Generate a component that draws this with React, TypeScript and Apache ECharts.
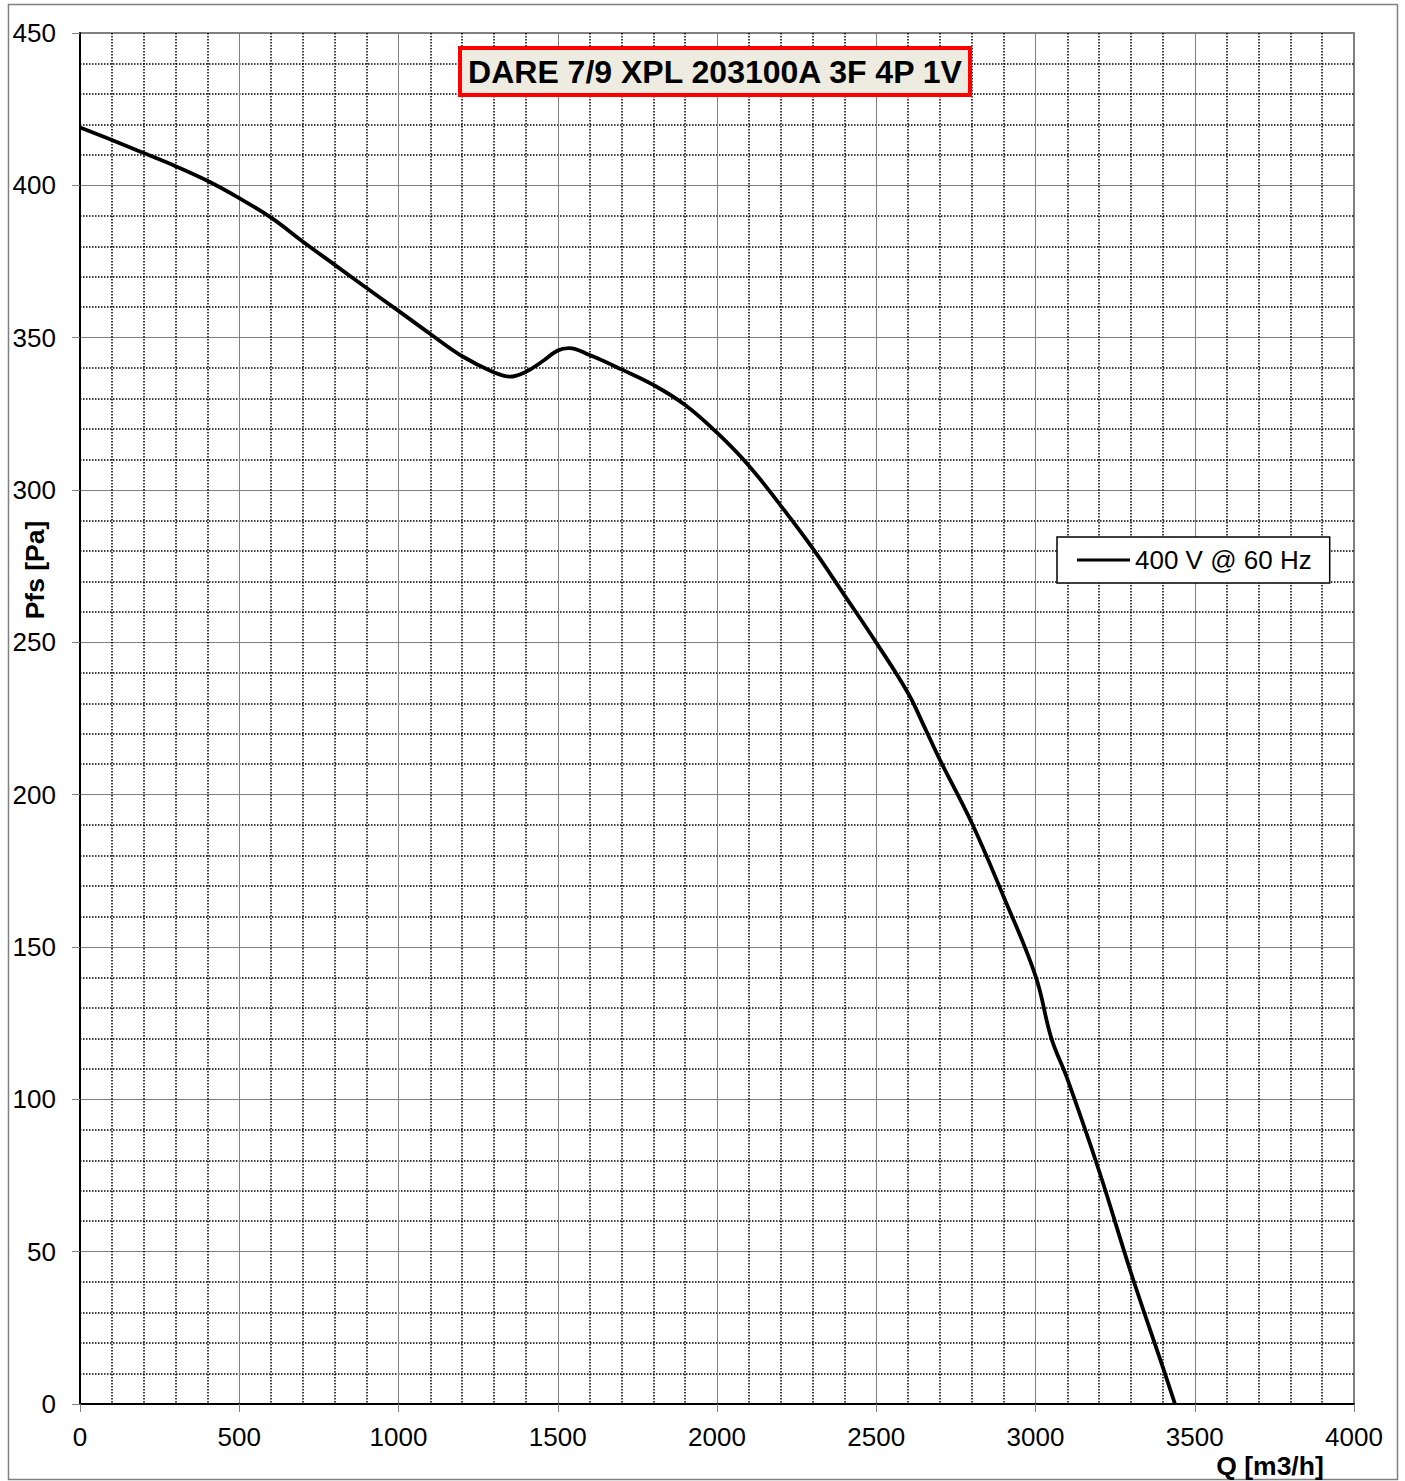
import React, { useEffect, useRef } from "react";
import * as echarts from "echarts";

const flowQ = [0, 100, 200, 300, 400, 500, 600, 700, 800, 900, 1000, 1100, 1200, 1300, 1350, 1400, 1450, 1500, 1535, 1600, 1700, 1800, 1900, 2000, 2100, 2200, 2300, 2400, 2500, 2600, 2650, 2700, 2800, 2900, 3000, 3050, 3100, 3200, 3300, 3400, 3438];
const pressureP = [419, 414.9, 410.6, 406.3, 401.5, 395.8, 389.4, 381.5, 373.9, 366.3, 358.8, 351.2, 343.9, 338.6, 337.2, 338.8, 342.1, 345.8, 346.6, 344.3, 339.6, 334.5, 327.9, 318.8, 308, 294.9, 280.9, 265.5, 249.9, 233.3, 222.5, 211.4, 190.7, 166.5, 140.5, 120, 106.7, 76.4, 43, 12, 0];
const seriesName = "400 V @ 60 Hz";
const chartTitle = "DARE 7/9 XPL 203100A 3F 4P 1V";
const xAxisTitle = "Q [m3/h]";
const yAxisTitle = "Pfs [Pa]";

const FONT = "'Liberation Sans', Arial, sans-serif";

export default function App() {
  const ref = useRef<HTMLDivElement>(null);
  useEffect(() => {
    document.body.style.margin = "0";
    const chart = echarts.init(ref.current!, null, { renderer: "svg" });
    const data = flowQ.map((q, i) => [q, pressureP[i]]);
    chart.setOption({
      animation: false,
      backgroundColor: "#ffffff",
      textStyle: { fontFamily: FONT },
      grid: {
        left: 80,
        right: 51,
        top: 33,
        bottom: 77,
        show: true,
        borderColor: "#808080",
        borderWidth: 2,
        backgroundColor: "transparent",
      },
      xAxis: {
        type: "value",
        min: 0,
        max: 4000,
        interval: 500,
        axisLine: { show: true, onZero: false, lineStyle: { color: "#000", width: 2 } },
        axisTick: { show: true, length: 8, lineStyle: { color: "#808080", width: 1 } },
        axisLabel: { fontSize: 26, color: "#000", margin: 20, fontFamily: FONT, formatter: (v: number) => String(v) },
        splitLine: { show: true, lineStyle: { color: "#808080", width: 1 } },
        minorTick: { show: false, splitNumber: 5 },
        minorSplitLine: { show: true, lineStyle: { color: "#000", width: 1.5, type: [1.5, 1.5] } },
      },
      yAxis: {
        type: "value",
        min: 0,
        max: 450,
        interval: 50,
        axisLine: { show: true, onZero: false, lineStyle: { color: "#000", width: 2 } },
        axisTick: { show: true, length: 8, lineStyle: { color: "#808080", width: 1 } },
        axisLabel: { fontSize: 26, color: "#000", margin: 24, fontFamily: FONT, formatter: (v: number) => String(v) },
        splitLine: { show: true, lineStyle: { color: "#808080", width: 1 } },
        minorTick: { show: false, splitNumber: 5 },
        minorSplitLine: { show: true, lineStyle: { color: "#000", width: 1.5, type: [1.5, 1.5] } },
      },
      legend: {
        show: true,
        left: 1057,
        top: 537,
        orient: "vertical",
        backgroundColor: "#fff",
        borderColor: "#000",
        borderWidth: 1.5,
        borderRadius: 0,
        padding: [10, 18, 10, 20],
        itemWidth: 53,
        itemHeight: 14,
        itemGap: 0,
        z: 30,
        textStyle: { fontSize: 26, color: "#000", fontFamily: FONT, padding: [0, 0, 0, 0] },
        data: [{ name: seriesName, icon: "path://M0,5.5 L53,5.5 L53,8.5 L0,8.5 Z" }],
      },
      series: [
        {
          name: seriesName,
          type: "line",
          data,
          smooth: 0.4,
          showSymbol: false,
          symbol: "none",
          lineStyle: { color: "#000", width: 3.8 },
          itemStyle: { color: "#000" },
          z: 5,
        },
      ],
      graphic: [
        {
          type: "rect",
          shape: { x: 8.5, y: 4.5, width: 1389, height: 1475 },
          style: { fill: "none", stroke: "#808080", lineWidth: 1.5 },
          silent: true,
          z: -10,
        },
        {
          type: "rect",
          z: 100,
          shape: { x: 460, y: 48, width: 510, height: 47 },
          style: { fill: "#EEECE1", stroke: "#FF0000", lineWidth: 4 },
        },
        {
          type: "text",
          z: 101,
          x: 715,
          y: 72,
          style: {
            text: chartTitle,
            fontSize: 32,
            fontWeight: "bold",
            fontFamily: FONT,
            fill: "#000",
            align: "center",
            verticalAlign: "middle",
          },
        },
        {
          type: "text",
          x: 35,
          y: 570,
          rotation: Math.PI / 2,
          style: {
            text: yAxisTitle,
            fontSize: 26.5,
            fontWeight: "bold",
            fontFamily: FONT,
            fill: "#000",
            align: "center",
            verticalAlign: "middle",
          },
        },
        {
          type: "text",
          x: 1270,
          y: 1466,
          style: {
            text: xAxisTitle,
            fontSize: 26.5,
            fontWeight: "bold",
            fontFamily: FONT,
            fill: "#000",
            align: "center",
            verticalAlign: "middle",
          },
        },
      ],
    });
    return () => chart.dispose();
  }, []);
  return <div ref={ref} style={{ width: 1405, height: 1481 }} />;
}
